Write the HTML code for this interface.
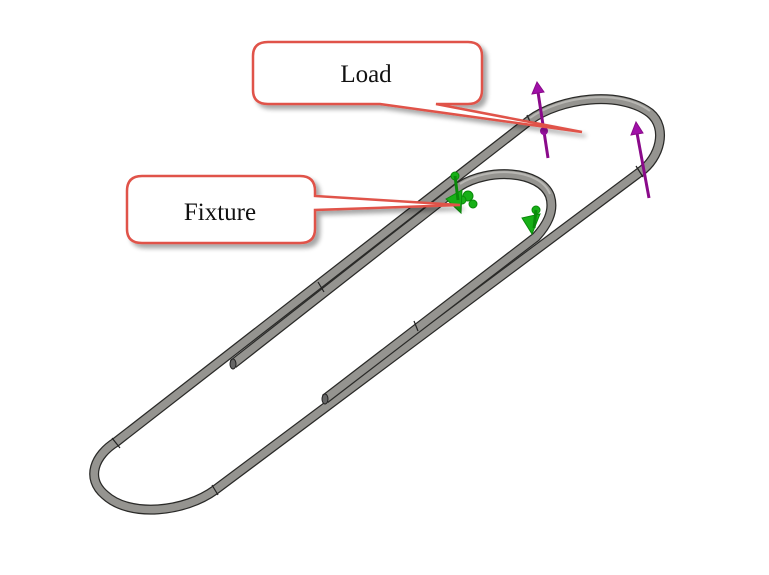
<!DOCTYPE html>
<html><head><meta charset="utf-8"><style>html,body{margin:0;padding:0;background:#fff}svg{display:block}</style></head>
<body>
<svg width="769" height="575" viewBox="0 0 769 575" xmlns="http://www.w3.org/2000/svg">
<defs>
<filter id="sh" x="-10%" y="-10%" width="130%" height="140%"><feGaussianBlur in="SourceAlpha" stdDeviation="2.5"/><feOffset dx="4" dy="4"/><feComponentTransfer><feFuncA type="linear" slope="0.35"/></feComponentTransfer><feMerge><feMergeNode/><feMergeNode in="SourceGraphic"/></feMerge></filter>
<path id="w1" d="M530,120 C560,98 620,90 650,113 C668,128 660,158 640,172 L215,490 C185,512 130,518 105,495 C85,478 95,455 116,442 Z"/>
<path id="w2" d="M233,364 L460,186 C488,168 540,170 550,196 C555,212 546,226 536,237 L325,399"/>
</defs>
<g fill="none" stroke-linecap="butt" stroke-linejoin="round">
<use href="#w1" stroke="#2a2a28" stroke-width="10"/>
<use href="#w1" stroke="#959490" stroke-width="7.5"/>
<path d="M530,118 C560,96 620,88 650,111" stroke="#b8b7b3" stroke-width="2"/>
<use href="#w2" stroke="#2a2a28" stroke-width="10"/>
<use href="#w2" stroke="#959490" stroke-width="7.5"/>
<path d="M460,184 C488,166 540,168 550,194" stroke="#b8b7b3" stroke-width="2"/>
<g stroke="#222" stroke-width="1.2">
<line x1="318" y1="282" x2="324" y2="292"/><line x1="414" y1="321" x2="418" y2="331"/>
<line x1="112" y1="438" x2="120" y2="448"/><line x1="212" y1="485" x2="218" y2="495"/>
<line x1="636" y1="166" x2="643" y2="177"/><line x1="527" y1="115" x2="532" y2="126"/>
</g>
</g>
<ellipse cx="233" cy="364" rx="3" ry="5" fill="#666" stroke="#222"/>
<ellipse cx="325" cy="399" rx="3" ry="5" fill="#666" stroke="#222"/>
<g stroke="#8a0a8a" stroke-width="3" fill="#a010a8">
<line x1="538" y1="92" x2="548" y2="158"/><polygon points="532,94 544,92 537,82" stroke-width="1"/>
<circle cx="544" cy="131" r="4" stroke="none"/>
<line x1="637" y1="133" x2="649" y2="198"/><polygon points="631,135 643,133 636,122" stroke-width="1"/>
</g>
<g fill="#17b017" stroke="#0a8a0a">
<circle cx="455" cy="176" r="4"/><circle cx="468" cy="196" r="5"/><circle cx="473" cy="204" r="4"/><circle cx="462" cy="200" r="4"/>
<polygon points="446,199 462,190 461,213"/><line x1="455" y1="176" x2="458" y2="200" stroke-width="3"/>
<circle cx="536" cy="210" r="4"/><polygon points="522,218 540,214 532,234"/><line x1="536" y1="210" x2="534" y2="228" stroke-width="3"/>
</g>
<g filter="url(#sh)" fill="#fff" stroke="#e0534a" stroke-width="2.5">
<path d="M268,42 H468 Q482,42 482,56 V90 Q482,104 468,104 H436 L582,132 L380,104 H268 Q253,104 253,90 V56 Q253,42 268,42 Z"/>
<path d="M142,176 H300 Q315,176 315,191 V196 L460,205 L315,210 V229 Q315,243 300,243 H142 Q127,243 127,229 V191 Q127,176 142,176 Z"/>
</g>
<g font-family="'Liberation Serif', serif" font-size="25" fill="#111" text-anchor="middle">
<text x="366" y="82">Load</text>
<text x="220" y="220">Fixture</text>
</g>
</svg>
</body></html>
